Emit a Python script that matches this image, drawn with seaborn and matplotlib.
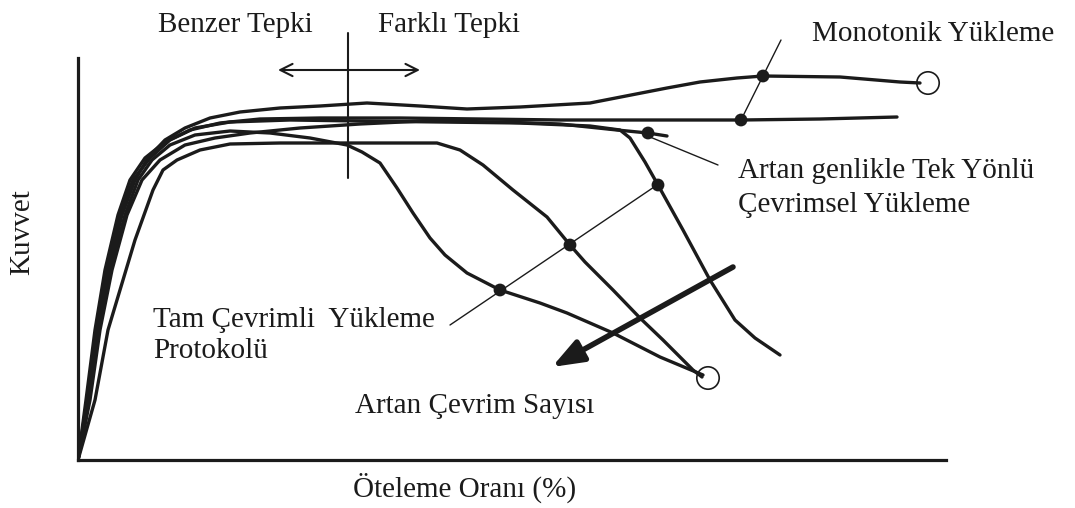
import matplotlib
matplotlib.use("Agg")
import matplotlib.pyplot as plt
import seaborn as sns

# Schematic backbone curves: drift ratio (x) vs. force (y), arbitrary units
mono_x = [0, 10, 19, 30, 44, 57, 70, 87, 107, 132, 162, 202, 242, 289, 342, 389, 442, 512, 589, 622, 659, 685, 762, 822, 842]
mono_y = [0, 60, 130, 190, 245, 280, 302, 320, 332, 342, 348, 352, 354, 357, 354, 351, 353, 357, 372, 378, 382, 384, 383, 378, 377]

plat_x = [0, 8, 17, 27, 40, 52, 67, 87, 112, 142, 182, 242, 322, 402, 482, 562, 663, 742, 819]
plat_y = [0, 60, 130, 190, 245, 280, 302, 318, 330, 337, 341, 342, 342, 341, 340, 340, 340, 341, 343]

env_x = [0, 12, 22, 34, 49, 64, 82, 107, 137, 172, 222, 282, 345, 422, 482, 539, 570, 589]
env_y = [0, 60, 130, 190, 245, 280, 300, 315, 322, 327, 332, 336, 339, 338, 336, 330, 327, 324]

cyc1_x = [0, 11, 21, 32, 47, 60, 74, 92, 117, 152, 192, 232, 269, 284, 302, 319, 335, 352, 367, 389, 422, 462, 489, 535, 582, 625]
cyc1_y = [0, 60, 130, 190, 245, 280, 300, 315, 325, 329, 327, 322, 315, 308, 297, 272, 247, 222, 205, 187, 170, 157, 147, 127, 103, 85]

cyc2_x = [0, 17, 30, 42, 57, 75, 85, 99, 122, 152, 202, 272, 359, 382, 405, 435, 469, 492, 507, 535, 562, 585, 615, 624]
cyc2_y = [0, 60, 130, 170, 220, 270, 290, 300, 310, 316, 317, 317, 317, 310, 295, 270, 243, 215, 198, 170, 142, 120, 90, 83]

cyc3_x = [0, 9, 18, 28, 42, 55, 72, 92, 117, 152, 212, 282, 362, 442, 512, 542, 552, 567, 580, 605, 632, 657, 677, 702]
cyc3_y = [0, 60, 130, 190, 245, 280, 302, 320, 332, 338, 340, 339, 338, 337, 334, 330, 322, 298, 275, 230, 180, 140, 122, 105]

# Marked points on the curves
dot_x = [685, 663, 570, 422, 492, 580]
dot_y = [384, 340, 327, 170, 215, 275]

# Failure points
fail_x = [850, 630]
fail_y = [377, 82]

INK = "#1b1b1b"

sns.set_style("white")
plt.rcParams["font.family"] = ["Liberation Serif", "DejaVu Serif"]

fig = plt.figure(figsize=(10.75, 5.08), dpi=100)
ax = fig.add_axes([78 / 1075, 48 / 508, 868 / 1075, 402 / 508])

for xs, ys in [(mono_x, mono_y), (plat_x, plat_y), (env_x, env_y),
               (cyc1_x, cyc1_y), (cyc2_x, cyc2_y), (cyc3_x, cyc3_y)]:
    sns.lineplot(x=xs, y=ys, sort=False, estimator=None, ax=ax,
                 color=INK, lw=2.4, solid_capstyle="round", solid_joinstyle="round")

# Thin leader lines
ax.plot([663, 703], [340, 420], color=INK, lw=1.0, clip_on=False)
ax.plot([572, 640], [323, 295], color=INK, lw=1.0)
ax.plot([372, 582], [135, 277], color=INK, lw=1.0)

sns.scatterplot(x=dot_x, y=dot_y, ax=ax, color=INK, s=85, edgecolor="none", zorder=5)
sns.scatterplot(x=fail_x, y=fail_y, ax=ax, s=260, facecolor="none",
                edgecolor=INK, linewidth=1.2, zorder=5)

# Boundary between similar and different response
ax.plot([270, 270], [282, 427], color=INK, lw=1.5, clip_on=False)
ax.annotate("", xy=(200, 390), xytext=(342, 390),
            arrowprops=dict(arrowstyle="<->", color=INK, lw=1.5,
                            mutation_scale=22, shrinkA=0, shrinkB=0),
            annotation_clip=False)

# Increasing number of cycles
ax.annotate("", xy=(474, 93), xytext=(655, 193),
            arrowprops=dict(arrowstyle="-|>,head_length=0.85,head_width=0.32", color=INK, lw=4,
                            mutation_scale=22, shrinkA=0, shrinkB=0))

fs = 21
txt = dict(color=INK, fontsize=fs, va="baseline", ha="left", clip_on=False)
ax.text(80, 428, "Benzer Tepki", **txt)
ax.text(300, 428, "Farklı Tepki", **txt)
ax.text(734, 419, "Monotonik Yükleme", **txt)
ax.text(660, 282, "Artan genlikle Tek Yönlü", **txt)
ax.text(660, 248, "Çevrimsel Yükleme", **txt)
ax.text(75, 133, "Tam Çevrimli  Yükleme", **txt)
ax.text(75, 102, "Protokolü", **txt)
ax.text(277, 47, "Artan Çevrim Sayısı", **txt)

ax.set_xlabel("Öteleme Oranı (%)", fontsize=fs, color=INK)
ax.xaxis.set_label_coords(387 / 868, -37 / 402)
ax.xaxis.label.set_va("baseline")
ax.set_ylabel("Kuvvet", fontsize=fs, color=INK)
ax.yaxis.set_label_coords(-56 / 868, 228 / 402)
ax.yaxis.label.set_va("center")

ax.set_xlim(0, 868)
ax.set_ylim(0, 402)
ax.set_xticks([])
ax.set_yticks([])
for side in ["top", "right"]:
    ax.spines[side].set_visible(False)
for side in ["left", "bottom"]:
    ax.spines[side].set_linewidth(2.3)
    ax.spines[side].set_color(INK)

fig.savefig("out.png", dpi=100, facecolor="white")
